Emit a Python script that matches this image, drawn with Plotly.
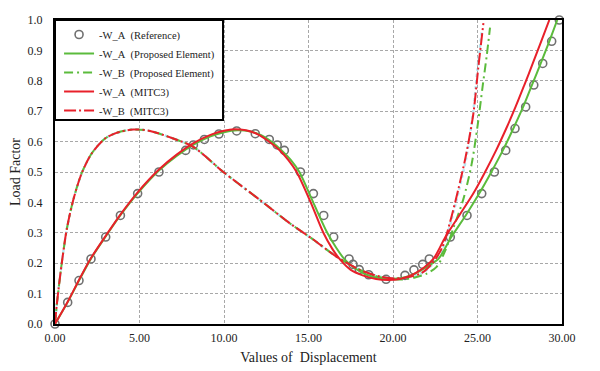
import plotly.graph_objects as go

# Reference W_A (circles)
ref_x = [0, 0.75, 1.42, 2.13, 3.0, 3.87, 4.89, 6.15, 7.73, 8.19, 8.84, 9.7, 10.75, 11.85, 12.68, 13.15,
         13.57, 14.52, 15.29, 15.9, 16.49, 17.4, 17.63, 18.0, 18.56, 19.59, 20.71, 21.24, 21.76, 22.15,
         23.39, 24.38, 25.25, 26.0, 26.67, 27.22, 27.85, 28.33, 28.86, 29.39, 29.84]
ref_y = [0, 0.071, 0.143, 0.214, 0.286, 0.357, 0.429, 0.5, 0.571, 0.589, 0.607, 0.625, 0.635, 0.626, 0.607, 0.589,
         0.571, 0.5, 0.429, 0.357, 0.286, 0.214, 0.196, 0.179, 0.162, 0.147, 0.16, 0.178, 0.196, 0.214,
         0.286, 0.357, 0.429, 0.5, 0.571, 0.643, 0.714, 0.786, 0.857, 0.93, 1.0]

# Proposed element W_A (green solid)
pe_a_x = [0, 0.75, 1.42, 2.13, 3.0, 3.87, 4.89, 6.15, 7.2, 8.2, 9.2, 10.0, 10.8, 11.5, 12.2, 12.8, 13.41, 13.95,
          14.46, 15.28, 16.11, 16.65, 17.1, 17.7, 18.4, 19.2, 19.9, 20.6, 21.3, 22.0, 22.7, 23.45, 24.3, 25.1,
          25.82, 26.5, 27.12, 27.7, 28.22, 28.74, 29.25, 29.72]
pe_a_y = [0, 0.072, 0.143, 0.215, 0.288, 0.358, 0.43, 0.505, 0.553, 0.59, 0.617, 0.631, 0.637, 0.634, 0.621, 0.6,
          0.571, 0.54, 0.5, 0.4, 0.3, 0.25, 0.215, 0.185, 0.163, 0.151, 0.148, 0.152, 0.166, 0.188, 0.215,
          0.286, 0.357, 0.429, 0.5, 0.571, 0.643, 0.714, 0.786, 0.857, 0.93, 1.0]

# MITC3 W_A (red solid)
mi_a_x = [0, 0.75, 1.42, 2.13, 3.0, 3.87, 4.89, 6.15, 7.2, 8.2, 9.2, 10.0, 10.6, 11.3, 12.0, 12.6, 13.31, 13.8,
          14.3, 15.13, 15.88, 16.4, 16.9, 17.5, 18.2, 19.0, 19.7, 20.4, 21.1, 21.8, 22.4, 23.1, 23.92, 24.75,
          25.45, 26.1, 26.7, 27.25, 27.77, 28.27, 28.77, 29.25]
mi_a_y = [0, 0.073, 0.145, 0.217, 0.29, 0.36, 0.433, 0.508, 0.557, 0.595, 0.622, 0.636, 0.641, 0.637, 0.624, 0.603,
          0.571, 0.54, 0.5, 0.4, 0.3, 0.248, 0.21, 0.178, 0.16, 0.148, 0.145, 0.148, 0.161, 0.184, 0.215,
          0.286, 0.357, 0.429, 0.5, 0.571, 0.643, 0.714, 0.786, 0.857, 0.93, 1.0]

# MITC3 W_B (red dash-dot)
mi_b_x = [0, 0.1, 0.2, 0.4, 0.69, 1.08, 1.58, 2.17, 2.96, 3.6, 4.63, 5.62, 7.0, 8.18, 9.96, 12.13, 13.9, 15.28,
          16.67, 18.05, 19.23, 20.1, 21.0, 21.7, 22.3, 22.9, 23.4, 23.85, 24.3, 24.75, 25.05, 25.35]
mi_b_y = [0, 0.06, 0.11, 0.2, 0.31, 0.408, 0.496, 0.561, 0.61, 0.628, 0.64, 0.635, 0.61, 0.583, 0.5, 0.408, 0.331,
          0.278, 0.221, 0.178, 0.156, 0.15, 0.155, 0.168, 0.198, 0.25, 0.34, 0.44, 0.55, 0.69, 0.845, 0.99]

# Proposed element W_B (green dash-dot)
pe_b_x = [0, 0.1, 0.2, 0.4, 0.69, 1.08, 1.58, 2.17, 2.96, 3.6, 4.63, 5.62, 7.0, 8.18, 9.96, 12.13, 13.9, 15.28,
          16.67, 18.05, 19.3, 20.4, 21.3, 22.0, 22.58, 23.08, 23.6, 24.16, 24.65, 25.0, 25.3, 25.54, 25.74]
pe_b_y = [0, 0.06, 0.11, 0.2, 0.31, 0.408, 0.496, 0.561, 0.61, 0.628, 0.64, 0.635, 0.61, 0.583, 0.5, 0.408, 0.331,
          0.278, 0.221, 0.178, 0.153, 0.146, 0.153, 0.166, 0.188, 0.24, 0.32, 0.41, 0.525, 0.65, 0.78, 0.88, 0.975]

# Light cyan dotted W_B curve (underlay)
cy_b_x = [0, 0.1, 0.2, 0.4, 0.69, 1.08, 1.58, 2.17, 2.96, 3.6, 4.63, 5.62, 7.0, 8.18, 9.96, 12.13, 13.9, 15.28,
          16.67, 18.05, 19.23, 20.2, 21.1, 21.8, 22.4, 22.95, 23.45, 23.9, 24.35, 24.75, 25.0, 25.25]
cy_b_y = [0, 0.06, 0.11, 0.2, 0.31, 0.408, 0.496, 0.561, 0.61, 0.628, 0.64, 0.635, 0.61, 0.583, 0.5, 0.408, 0.331,
          0.278, 0.221, 0.178, 0.156, 0.15, 0.156, 0.17, 0.2, 0.25, 0.34, 0.44, 0.55, 0.7, 0.84, 0.96]

x_ticks = [0, 5, 10, 15, 20, 25, 30]
y_ticks = [0.0, 0.1, 0.2, 0.3, 0.4, 0.5, 0.6, 0.7, 0.8, 0.9, 1.0]

RED = "#e8202a"
GREEN = "#5bbb3c"
GREY = "#707070"
FONT = "Liberation Serif"
SP = "\u00a0\u00a0"

fig = go.Figure()

fig.add_trace(go.Scatter(x=cy_b_x, y=cy_b_y, mode="lines", showlegend=False,
                         line=dict(color="#b5e6f2", width=2.5, dash="dot", shape="spline", smoothing=0.8),
                         hoverinfo="skip"))
fig.add_trace(go.Scatter(x=ref_x, y=ref_y, mode="markers", name="-W_A" + SP + "(Reference)",
                         marker=dict(symbol="circle-open", size=8, color=GREY, line=dict(width=1.6, color=GREY)),
                         cliponaxis=False))
fig.add_trace(go.Scatter(x=pe_a_x, y=pe_a_y, mode="lines", name="-W_A" + SP + "(Proposed Element)",
                         line=dict(color=GREEN, width=2, shape="spline", smoothing=0.8)))
fig.add_trace(go.Scatter(x=pe_b_x, y=pe_b_y, mode="lines", name="-W_B" + SP + "(Proposed Element)",
                         line=dict(color=GREEN, width=2, dash="9px,4px,2px,4px", shape="spline", smoothing=0.8)))
fig.add_trace(go.Scatter(x=mi_a_x, y=mi_a_y, mode="lines", name="-W_A" + SP + "(MITC3)",
                         line=dict(color=RED, width=2, shape="spline", smoothing=0.8)))
fig.add_trace(go.Scatter(x=mi_b_x, y=mi_b_y, mode="lines", name="-W_B" + SP + "(MITC3)",
                         line=dict(color=RED, width=2, dash="12px,3px,2px,3px", shape="spline", smoothing=0.8)))

axis_common = dict(showline=True, linecolor="black", linewidth=2, mirror=True,
                   showgrid=True, gridcolor="#a8a8a8", gridwidth=1, griddash="3px,2px",
                   zeroline=False, ticks="", automargin=False,
                   tickfont=dict(family=FONT, size=12, color="#222"))

fig.update_layout(
    width=600, height=371,
    margin=dict(l=47, r=46, t=12, b=55),
    paper_bgcolor="white", plot_bgcolor="white",
    font=dict(family=FONT, color="#222"),
    xaxis=dict(range=[0, 30], tickvals=x_ticks, tickformat=".2f", ticklabelstandoff=2,
               title=dict(text="Values of\u00a0\u00a0Displacement", font=dict(family=FONT, size=14), standoff=8),
               **axis_common),
    yaxis=dict(range=[0, 1], tickvals=y_ticks, tickformat=".1f", ticklabelstandoff=8,
               title=dict(text="Load Factor", font=dict(family=FONT, size=14), standoff=18),
               **axis_common),
    legend=dict(xref="paper", yref="paper", x=0.008, y=1.0, xanchor="left", yanchor="top",
                bgcolor="rgba(0,0,0,0)", borderwidth=0, tracegroupgap=0,
                font=dict(family=FONT, size=10.5, color="#222")),
    shapes=[dict(type="rect", xref="paper", yref="paper", x0=0, x1=0.3314, y0=0.671, y1=1,
                 line=dict(color="black", width=2), fillcolor="white", layer="above")],
    showlegend=True,
)

fig.write_html("out.html")
